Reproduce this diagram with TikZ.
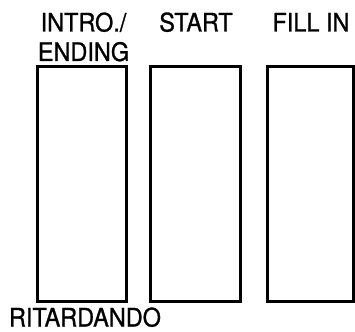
\documentclass[tikz,border=0pt]{standalone}
\usepackage{fontspec}
\newfontfamily\hv[FakeStretch=0.92,FakeBold=1]{TeX Gyre Heros}
\begin{document}
\begin{tikzpicture}[x=1pt,y=1pt,
  panel/.style={draw=black,line width=3pt},
  lbl/.style={font=\hv\fontsize{25.5}{28}\selectfont,inner sep=0pt,anchor=base}]
\useasboundingbox (0,0) rectangle (355,331);
\draw[panel] (37.5,264.5) rectangle (126,29) coordinate (b1);
\draw[panel] (150.5,264.5) rectangle (240,29) coordinate (b2);
\draw[panel] (267.5,264.5) -- (353.5,264.5) -- (353.5,29) -- (267.5,29) -- cycle;
\node[lbl] (intro) at (83.5,299.5) {INTRO./};
\node[lbl] (ending) at (83.5,270) {ENDING};
\node[lbl] (start) at (196,299.5) {START};
\node[lbl] (fill) at (311,299.5) {FILL IN};
\node[lbl] (rit) at (85,4.5) {RITARDANDO};
\end{tikzpicture}
\end{document}
